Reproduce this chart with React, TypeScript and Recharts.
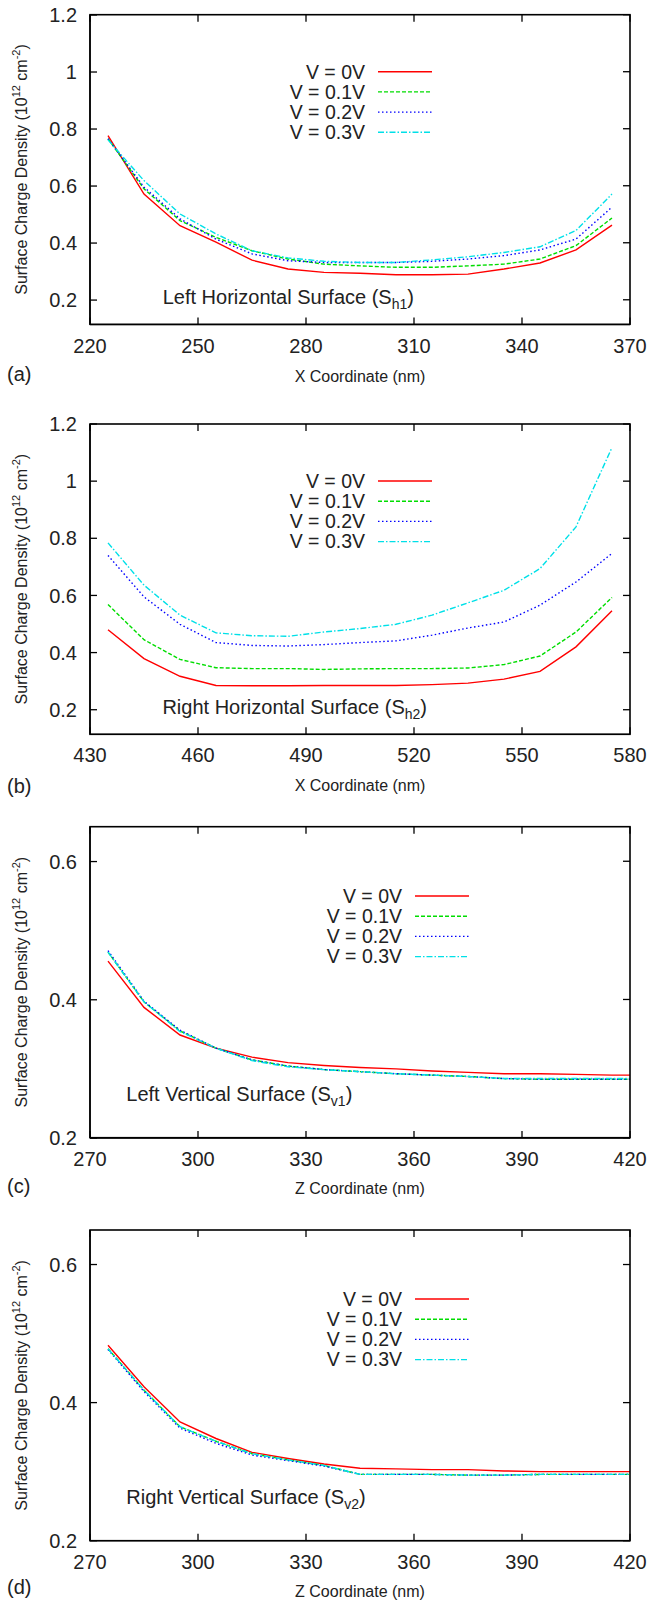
import { LineChart, Line, XAxis, YAxis } from "recharts";

// panel (a) – left horizontal surface
const xA = [225, 235, 245, 255, 265, 275, 285, 295, 305, 315, 325, 335, 345, 355, 365];
const a0 = [0.777, 0.572, 0.461, 0.403, 0.34, 0.309, 0.297, 0.294, 0.289, 0.289, 0.291, 0.309, 0.33, 0.376, 0.463];
const a1 = [0.766, 0.59, 0.479, 0.42, 0.373, 0.344, 0.326, 0.32, 0.315, 0.315, 0.32, 0.326, 0.344, 0.391, 0.488];
const a2 = [0.766, 0.596, 0.485, 0.414, 0.362, 0.338, 0.332, 0.332, 0.332, 0.336, 0.344, 0.356, 0.376, 0.414, 0.526];
const a3 = [0.762, 0.619, 0.502, 0.432, 0.373, 0.348, 0.336, 0.332, 0.332, 0.341, 0.352, 0.367, 0.387, 0.444, 0.572];

// panel (b) – right horizontal surface
const xB = [435, 445, 455, 465, 475, 485, 495, 505, 515, 525, 535, 545, 555, 565, 575];
const b0 = [0.48, 0.379, 0.317, 0.285, 0.284, 0.284, 0.285, 0.285, 0.285, 0.288, 0.293, 0.307, 0.334, 0.42, 0.546];
const b1 = [0.568, 0.445, 0.376, 0.347, 0.344, 0.344, 0.341, 0.343, 0.344, 0.344, 0.346, 0.358, 0.388, 0.472, 0.593];
const b2 = [0.74, 0.595, 0.499, 0.435, 0.425, 0.423, 0.428, 0.435, 0.441, 0.461, 0.486, 0.507, 0.566, 0.647, 0.747];
const b3 = [0.784, 0.636, 0.531, 0.469, 0.459, 0.457, 0.472, 0.484, 0.499, 0.531, 0.574, 0.618, 0.694, 0.84, 1.118];

// panel (c) – left vertical surface
const xC = [275, 285, 295, 305, 315, 325, 335, 345, 355, 365, 375, 385, 395, 405, 415, 425];
const c0 = [0.456, 0.389, 0.349, 0.33, 0.317, 0.309, 0.305, 0.302, 0.3, 0.297, 0.295, 0.293, 0.293, 0.292, 0.291, 0.291];
const c1 = [0.469, 0.397, 0.355, 0.33, 0.313, 0.304, 0.299, 0.296, 0.293, 0.291, 0.289, 0.286, 0.285, 0.285, 0.285, 0.285];
const c2 = [0.471, 0.398, 0.356, 0.33, 0.313, 0.304, 0.299, 0.296, 0.293, 0.291, 0.289, 0.286, 0.285, 0.285, 0.285, 0.285];
const c3 = [0.469, 0.397, 0.354, 0.33, 0.312, 0.303, 0.299, 0.296, 0.293, 0.291, 0.289, 0.286, 0.286, 0.286, 0.286, 0.286];

// panel (d) – right vertical surface
const xD = [275, 285, 295, 305, 315, 325, 335, 345, 355, 365, 375, 385, 395, 405, 415, 425];
const d0 = [0.483, 0.423, 0.372, 0.348, 0.328, 0.319, 0.311, 0.305, 0.304, 0.303, 0.303, 0.301, 0.3, 0.3, 0.3, 0.3];
const d1 = [0.478, 0.418, 0.365, 0.344, 0.326, 0.317, 0.309, 0.296, 0.296, 0.296, 0.295, 0.295, 0.296, 0.296, 0.296, 0.296];
const d2 = [0.477, 0.416, 0.363, 0.341, 0.324, 0.316, 0.308, 0.296, 0.296, 0.296, 0.295, 0.295, 0.296, 0.296, 0.296, 0.296];
const d3 = [0.478, 0.418, 0.365, 0.344, 0.326, 0.317, 0.309, 0.296, 0.296, 0.296, 0.295, 0.295, 0.296, 0.296, 0.296, 0.296];

const ticksAB_Y = [0.2, 0.4, 0.6, 0.8, 1, 1.2];
const ticksCD_Y = [0.2, 0.4, 0.6];
const ticksA_X = [220, 250, 280, 310, 340, 370];
const ticksB_X = [430, 460, 490, 520, 550, 580];
const ticksCD_X = [270, 300, 330, 360, 390, 420];

const SERIES = [
  { key: "v0", name: "V = 0V", color: "#ff0000", dash: undefined as string | undefined },
  { key: "v1", name: "V = 0.1V", color: "#00dd00", dash: "4 2" },
  { key: "v2", name: "V = 0.2V", color: "#0000ff", dash: "1.5 2.5" },
  { key: "v3", name: "V = 0.3V", color: "#00e0e8", dash: "6 2 1.5 2" },
];

const FONT = '"Liberation Sans", Arial, Helvetica, sans-serif';
const TXT = "#222";
const TICK = 7; // inward tick length, px
const PLOT_L = 90;
const PLOT_R = 630;

const rows = (xs: number[], s0: number[], s1: number[], s2: number[], s3: number[]) =>
  xs.map((x, i) => ({ x, v0: s0[i], v1: s1[i], v2: s2[i], v3: s3[i] }));

interface PanelProps {
  tag: string;
  top: number;
  height: number;
  data: ReturnType<typeof rows>;
  xDomain: [number, number];
  xTicks: number[];
  yDomain: [number, number];
  yTicks: number[];
  xLabel: string;
  tagY: number;
  xLabelY: number;
  legendX: number;
  legendY: number;
  noteX: number;
  noteY: number;
  note: string;
  noteSub: string;
}

function Panel(p: PanelProps) {
  const axisProps = {
    stroke: "#000",
    strokeWidth: 1.3,
    tickSize: -TICK,
  };
  const plotMid = p.top + p.height / 2;
  const bottom = p.top + p.height;
  const [x0, x1] = p.xDomain;
  const [y0, y1] = p.yDomain;
  const sx = (v: number) => PLOT_L + ((v - x0) / (x1 - x0)) * (PLOT_R - PLOT_L);
  const sy = (v: number) => bottom - ((v - y0) / (y1 - y0)) * p.height;
  return (
    <>
      <div style={{ position: "absolute", left: 0, top: p.top - 10 }}>
        <LineChart
          width={648}
          height={p.height + 50}
          data={p.data}
          margin={{ top: 10, right: 648 - PLOT_R, bottom: 0, left: 0 }}
        >
          <XAxis
            dataKey="x"
            type="number"
            domain={p.xDomain}
            ticks={p.xTicks}
            interval={0}
            allowDataOverflow
            height={40}
            tickMargin={21}
            tick={{ fill: TXT, fontSize: 20, fontFamily: FONT }}
            {...axisProps}
          />
          <YAxis
            type="number"
            domain={p.yDomain}
            ticks={p.yTicks}
            interval={0}
            allowDataOverflow
            width={PLOT_L}
            tickMargin={20}
            tick={{ fill: TXT, fontSize: 20, fontFamily: FONT }}
            {...axisProps}
          />
          {SERIES.map((s) => (
            <Line
              key={s.key}
              type="linear"
              dataKey={s.key}
              stroke={s.color}
              strokeWidth={1.4}
              strokeDasharray={s.dash}
              dot={false}
              activeDot={false}
              isAnimationActive={false}
            />
          ))}
        </LineChart>
      </div>
      <svg
        width={648}
        height={1602}
        style={{ position: "absolute", left: 0, top: 0, pointerEvents: "none", fontFamily: FONT }}
      >
        {/* full frame with mirrored inward ticks on top and right */}
        <rect
          x={PLOT_L}
          y={p.top}
          width={PLOT_R - PLOT_L}
          height={p.height}
          fill="none"
          stroke="#000"
          strokeWidth={1.6}
        />
        {p.xTicks.map((t) => (
          <line
            key={`t${t}`}
            x1={sx(t)}
            x2={sx(t)}
            y1={p.top}
            y2={p.top + TICK}
            stroke="#000"
            strokeWidth={1.3}
          />
        ))}
        {p.yTicks.map((t) => (
          <line
            key={`r${t}`}
            x1={PLOT_R - TICK}
            x2={PLOT_R}
            y1={sy(t)}
            y2={sy(t)}
            stroke="#000"
            strokeWidth={1.3}
          />
        ))}
        {/* legend */}
        {SERIES.map((s, i) => {
          const y = p.legendY + i * 20.2;
          return (
            <g key={s.key}>
              <text x={p.legendX} y={y + 6.8} textAnchor="end" fontSize={19.5} fill={TXT}>
                {s.name}
              </text>
              <line
                x1={p.legendX + 13}
                x2={p.legendX + 67}
                y1={y}
                y2={y}
                stroke={s.color}
                strokeWidth={1.4}
                strokeDasharray={s.dash}
              />
            </g>
          );
        })}
        {/* surface note */}
        <text x={p.noteX} y={p.noteY + 7.2} fontSize={20} fill={TXT}>
          {p.note} (S
          <tspan fontSize={14} dy={5}>
            {p.noteSub}
          </tspan>
          <tspan dy={-5}>)</tspan>
        </text>
        {/* y label */}
        <text
          transform={`translate(21,${plotMid}) rotate(-90)`}
          textAnchor="middle"
          fontSize={16}
          fill={TXT}
          dy={5.5}
        >
          Surface Charge Density (10
          <tspan fontSize={11} dy={-7}>12</tspan>
          <tspan dy={7}> cm</tspan>
          <tspan fontSize={11} dy={-7}>-2</tspan>
          <tspan dy={7}>)</tspan>
        </text>
        {/* x label */}
        <text x={360} y={p.xLabelY + 5.7} textAnchor="middle" fontSize={16} fill={TXT}>
          {p.xLabel}
        </text>
        <text x={7} y={p.tagY + 6} fontSize={20} fill={TXT}>
          ({p.tag})
        </text>
      </svg>
    </>
  );
}

export default function App() {
  return (
    <div
      style={{
        position: "absolute",
        left: 0,
        top: 0,
        width: 648,
        height: 1602,
        background: "#fff",
        fontFamily: FONT,
      }}
    >
      <Panel
        tag="a"
        top={14.7}
        height={309.6}
        data={rows(xA, a0, a1, a2, a3)}
        xDomain={[220, 370]}
        xTicks={ticksA_X}
        yDomain={[0.114, 1.2]}
        yTicks={ticksAB_Y}
        xLabel="X Coordinate (nm)"
        tagY={375}
        xLabelY={376.7}
        legendX={365}
        legendY={71.7}
        noteX={162.7}
        noteY={296.7}
        note="Left Horizontal Surface"
        noteSub="h1"
      />
      <Panel
        tag="b"
        top={424}
        height={310.3}
        data={rows(xB, b0, b1, b2, b3)}
        xDomain={[430, 580]}
        xTicks={ticksB_X}
        yDomain={[0.114, 1.2]}
        yTicks={ticksAB_Y}
        xLabel="X Coordinate (nm)"
        tagY={786.7}
        xLabelY={785.7}
        legendX={365}
        legendY={481}
        noteX={162.4}
        noteY={706.7}
        note="Right Horizontal Surface"
        noteSub="h2"
      />
      <Panel
        tag="c"
        top={826.7}
        height={311}
        data={rows(xC, c0, c1, c2, c3)}
        xDomain={[270, 420]}
        xTicks={ticksCD_X}
        yDomain={[0.2, 0.65]}
        yTicks={ticksCD_Y}
        xLabel="Z Coordinate (nm)"
        tagY={1187}
        xLabelY={1188}
        legendX={402}
        legendY={896}
        noteX={126.3}
        noteY={1094}
        note="Left Vertical Surface"
        noteSub="v1"
      />
      <Panel
        tag="d"
        top={1230}
        height={310.7}
        data={rows(xD, d0, d1, d2, d3)}
        xDomain={[270, 420]}
        xTicks={ticksCD_X}
        yDomain={[0.2, 0.65]}
        yTicks={ticksCD_Y}
        xLabel="Z Coordinate (nm)"
        tagY={1588.3}
        xLabelY={1591.7}
        legendX={402}
        legendY={1299}
        noteX={126.3}
        noteY={1496.7}
        note="Right Vertical Surface"
        noteSub="v2"
      />
    </div>
  );
}
